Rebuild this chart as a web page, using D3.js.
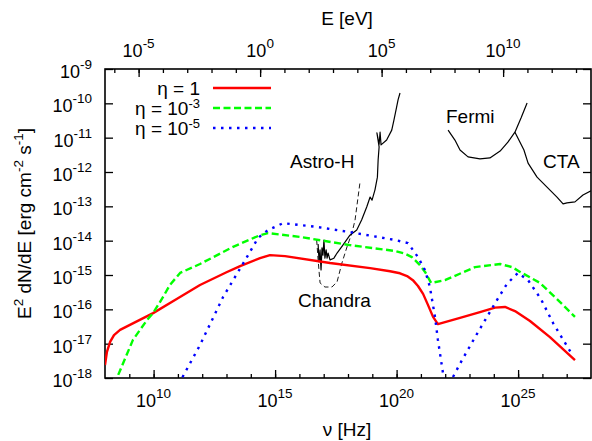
<!DOCTYPE html>
<html>
<head>
<meta charset="utf-8">
<script src="https://cdn.jsdelivr.net/npm/d3@7"></script>
<style>
  body { margin: 0; background: #fff; }
  svg { display: block; font-family: "Liberation Sans", Arial, sans-serif; }
</style>
</head>
<body>
<svg id="chart" width="592" height="441"></svg>
<script>
// all values are log10: [log10 nu in Hz, log10 E^2 dN/dE]
const eta1 = [[8.00,-17.62],[8.08,-17.24],[8.21,-16.95],[8.37,-16.75],[8.62,-16.60],[9.98,-16.11],
  [10.95,-15.70],[11.91,-15.29],[13.00,-14.92],[13.56,-14.74],[14.38,-14.51],[14.79,-14.42],[15.41,-14.45],
  [17.26,-14.65],[18.91,-14.80],[19.73,-14.89],[20.14,-14.95],[20.43,-15.03],[20.67,-15.15],[20.88,-15.32],
  [21.09,-15.55],[21.29,-15.87],[21.50,-16.22],[21.70,-16.43],[22.61,-16.25],[23.43,-16.08],[24.05,-15.95],
  [24.46,-15.93],[24.87,-16.05],[25.49,-16.34],[26.31,-16.81],[27.34,-17.48]];

const eta3 = [[8.41,-18.20],[8.49,-18.00],[9.15,-16.89],[9.73,-16.31],[9.98,-16.11],[10.39,-15.64],
  [10.67,-15.29],[11.09,-14.94],[11.91,-14.68],[13.27,-14.18],[14.38,-13.84],[14.71,-13.78],[16.02,-13.89],
  [18.08,-14.13],[19.93,-14.30],[20.35,-14.38],[20.63,-14.48],[20.96,-14.71],[21.17,-14.91],[21.42,-15.23],
  [21.99,-15.15],[23.23,-14.77],[24.26,-14.68],[24.75,-14.77],[25.08,-14.91],[25.90,-15.23],[26.60,-15.70],
  [27.34,-16.22]];

const eta5 = [[11.09,-18.20],[11.17,-18.00],[11.91,-17.04],[12.86,-15.64],[13.84,-14.48],[14.30,-13.92],
  [14.71,-13.69],[15.33,-13.49],[16.72,-13.60],[18.08,-13.75],[19.93,-13.98],[20.47,-14.07],[20.88,-14.48],
  [21.17,-14.86],[21.37,-15.35],[21.58,-16.22],[21.70,-16.89],[21.91,-17.86],[22.03,-18.50],[22.20,-18.50],
  [22.32,-17.97],[22.69,-17.48],[23.23,-16.81],[24.13,-15.73],[24.54,-15.26],[24.99,-14.94],[25.41,-15.15],
  [25.94,-15.70],[26.44,-16.40],[27.26,-17.36]];

const astroH = [[16.77,-14.10],[16.81,-14.62],[16.85,-14.27],[16.89,-14.85],[16.93,-14.21],[16.97,-14.42],
  [17.01,-13.98],[17.05,-14.51],[17.10,-14.27],[17.14,-14.51],[17.18,-14.36],[17.26,-14.56],[17.42,-14.51],
  [17.55,-14.36],[17.79,-14.13],[18.08,-13.84],[18.36,-13.69],[18.56,-13.40],[18.77,-13.02],[18.91,-12.73],
  [18.99,-12.82],[19.11,-12.52],[19.21,-12.15],[19.24,-11.65],[19.28,-11.27],[19.19,-10.86],[19.28,-11.20],
  [19.32,-10.84],[19.36,-11.21],[19.59,-11.07],[19.80,-10.78],[19.89,-10.49],[20.00,-10.11],[20.06,-9.90],
  [20.14,-9.70]];

const chandra = [[16.71,-13.98],[16.77,-14.56],[16.85,-15.23],[17.05,-15.35],[17.34,-15.35],[17.55,-15.20],
  [17.75,-14.65],[17.96,-14.18],[18.16,-13.78],[18.29,-13.40],[18.49,-12.32]];

const fermi = [[22.12,-10.78],[22.40,-11.07],[22.61,-11.36],[22.94,-11.56],[23.43,-11.62],[23.84,-11.59],
  [24.26,-11.39],[24.58,-11.13],[24.87,-10.84],[25.12,-10.43],[25.37,-9.99]];

const cta = [[24.87,-10.84],[25.24,-11.36],[25.41,-11.74],[25.78,-12.15],[26.19,-12.44],[26.60,-12.73],
  [26.85,-12.93],[27.01,-12.90],[27.34,-12.87],[27.67,-12.67],[28.00,-12.55]];

const nuTicks = d3.range(9, 28);          // every decade
const nuLabels = [10, 15, 20, 25];
const eTicks = d3.range(-6, 14);
const eLabels = [-5, 0, 5, 10];
const fluxLabels = d3.range(-18, -8);     // -18 .. -9

const hPlanck = 4.1357e-15; // eV s

const svg = d3.select('#chart');
const m = { left: 105, right: 591, top: 69, bottom: 378 };

const x = d3.scaleLog().domain([1e8, 1e28]).range([m.left, m.right]);
const xE = d3.scaleLog().domain([1e8 * hPlanck, 1e28 * hPlanck]).range([m.left, m.right]);
const y = d3.scaleLog().domain([1e-18, 1e-9]).range([m.bottom, m.top]);

svg.append('defs').append('clipPath').attr('id', 'plot')
  .append('rect').attr('x', m.left).attr('y', m.top)
  .attr('width', m.right - m.left).attr('height', m.bottom - m.top);

const line = d3.line()
  .x(d => x(Math.pow(10, d[0])))
  .y(d => y(Math.pow(10, d[1])));

// axes (ticks point inward)
function ticks(axis, transform) {
  svg.append('g')
    .attr('transform', transform)
    .call(axis.tickFormat('').tickSizeOuter(0))
    .call(g => g.select('.domain').remove())
    .call(g => g.selectAll('line').attr('stroke', '#000').attr('stroke-width', 1.3));
}
ticks(d3.axisBottom(x).tickValues(nuTicks.map(v => Math.pow(10, v))).tickSize(-4), `translate(0,${m.bottom})`);
ticks(d3.axisBottom(x).tickValues(nuLabels.map(v => Math.pow(10, v))).tickSize(-8), `translate(0,${m.bottom})`);
ticks(d3.axisTop(xE).tickValues(eTicks.map(v => Math.pow(10, v))).tickSize(-4), `translate(0,${m.top})`);
ticks(d3.axisTop(xE).tickValues(eLabels.map(v => Math.pow(10, v))).tickSize(-8), `translate(0,${m.top})`);
ticks(d3.axisLeft(y).tickValues(fluxLabels.map(v => Math.pow(10, v))).tickSize(-8), `translate(${m.left},0)`);
ticks(d3.axisRight(y).tickValues(fluxLabels.map(v => Math.pow(10, v))).tickSize(-8), `translate(${m.right},0)`);

// power-of-ten labels
function powLabel(px, py, exp, anchor) {
  const t = svg.append('text')
    .attr('x', px).attr('y', py)
    .attr('text-anchor', anchor)
    .attr('font-size', 18)
    .attr('fill', '#000');
  t.append('tspan').text('10');
  t.append('tspan').attr('dy', -9).attr('font-size', 13.5).text(exp);
}
nuLabels.forEach(v => powLabel(x(Math.pow(10, v)), 407, v, 'middle'));
eLabels.forEach(v => powLabel(xE(Math.pow(10, v)), 57, v, 'middle'));
fluxLabels.forEach(v => powLabel(92, y(Math.pow(10, v)) + 9, v, 'end'));

// frame
svg.append('rect')
  .attr('x', m.left).attr('y', m.top)
  .attr('width', m.right - m.left).attr('height', m.bottom - m.top)
  .attr('fill', 'none').attr('stroke', '#000').attr('stroke-width', 1.6);

// axis titles
svg.append('text').attr('x', 347).attr('y', 25).attr('text-anchor', 'middle')
  .attr('font-size', 19).text('E [eV]');
svg.append('text').attr('x', 347).attr('y', 436).attr('text-anchor', 'middle')
  .attr('font-size', 19).text('\u03bd [Hz]');

const yTitle = svg.append('text')
  .attr('transform', `translate(31,${(m.top + m.bottom) / 2}) rotate(-90)`)
  .attr('text-anchor', 'middle').attr('font-size', 19);
yTitle.append('tspan').text('E');
yTitle.append('tspan').attr('dy', -8).attr('font-size', 13.5).text('2');
yTitle.append('tspan').attr('dy', 8).text(' dN/dE [erg cm');
yTitle.append('tspan').attr('dy', -8).attr('font-size', 13.5).text('-2');
yTitle.append('tspan').attr('dy', 8).text(' s');
yTitle.append('tspan').attr('dy', -8).attr('font-size', 13.5).text('-1');
yTitle.append('tspan').attr('dy', 8).text(']');

// curves
const plot = svg.append('g').attr('clip-path', 'url(#plot)');

plot.append('path').attr('d', line(chandra))
  .attr('fill', 'none').attr('stroke', '#000').attr('stroke-width', 0.9).attr('stroke-dasharray', '5,3');
[astroH, fermi, cta].forEach(d => {
  plot.append('path').attr('d', line(d))
    .attr('fill', 'none').attr('stroke', '#000').attr('stroke-width', 1.2)
    .attr('stroke-linejoin', 'round');
});

const series = [
  { data: eta1, color: '#ff0000', dash: null, label: '1' },
  { data: eta3, color: '#00ff00', dash: '7,3.5', label: '10', sup: '-3' },
  { data: eta5, color: '#0000ff', dash: '2.5,5.5', label: '10', sup: '-5' }
];

series.forEach(s => {
  plot.append('path').attr('d', line(s.data))
    .attr('fill', 'none').attr('stroke', s.color).attr('stroke-width', 2.4)
    .attr('stroke-linejoin', 'round')
    .attr('stroke-dasharray', s.dash);
});

// legend
const legend = svg.append('g').attr('class', 'legend');
series.forEach((s, i) => {
  const ly = 88 + i * 20;
  const t = legend.append('text').attr('x', 200).attr('y', ly + 6.5)
    .attr('text-anchor', 'end').attr('font-size', 19);
  t.append('tspan').text('\u03b7 = ' + s.label);
  if (s.sup) t.append('tspan').attr('dy', -7).attr('font-size', 13).text(s.sup);
  legend.append('line').attr('x1', 213).attr('x2', 271).attr('y1', ly).attr('y2', ly)
    .attr('stroke', s.color).attr('stroke-width', 2.4).attr('stroke-dasharray', s.dash);
});

// instrument labels
const notes = [
  { text: 'Astro-H', x: 290, y: 168 },
  { text: 'Chandra', x: 298, y: 307 },
  { text: 'Fermi', x: 446, y: 123 },
  { text: 'CTA', x: 543, y: 168 }
];
svg.selectAll('.note').data(notes).enter().append('text')
  .attr('class', 'note')
  .attr('x', d => d.x).attr('y', d => d.y)
  .attr('font-size', 19)
  .text(d => d.text);
</script>
</body>
</html>
